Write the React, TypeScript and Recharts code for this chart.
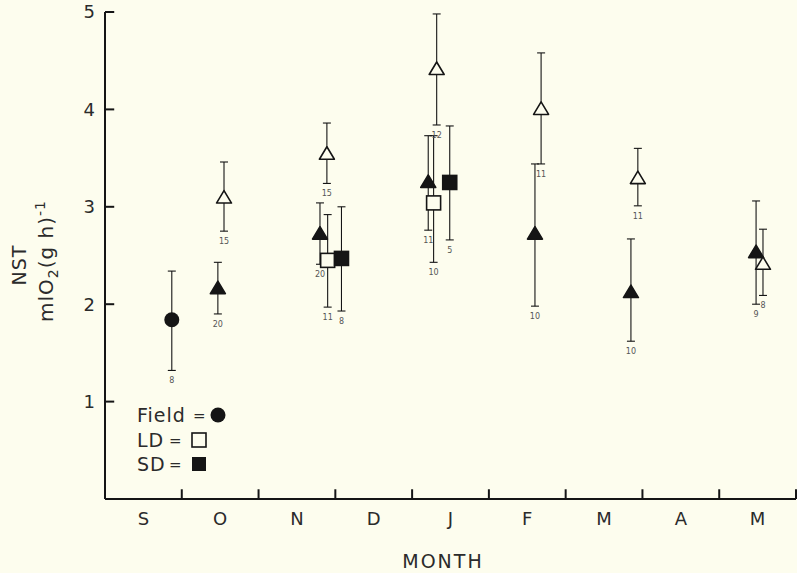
import {
  ScatterChart,
  Scatter,
  XAxis,
  YAxis,
  ErrorBar,
  ReferenceLine,
} from "recharts";

// Month bands: each month occupies one unit on the x axis, tick marks sit
// on the boundaries, labels in the middle of each band.
const months = ["S", "O", "N", "D", "J", "F", "M", "A", "M"];
const monthCentres = [0.5, 1.5, 2.5, 3.5, 4.5, 5.5, 6.5, 7.5, 8.5];
const monthBoundaries = [1, 2, 3, 4, 5, 6, 7, 8, 9];
const yTicks = [1, 2, 3, 4, 5];

// Field animals (filled circle)
const fieldX = [0.87];
const fieldMean = [1.84];
const fieldLow = [1.32];
const fieldHigh = [2.34];
const fieldN = ["8"];

// LD (open square)
const ldX = [2.9, 4.28];
const ldMean = [2.45, 3.04];
const ldLow = [1.97, 2.43];
const ldHigh = [2.92, 3.73];
const ldN = ["11", "10"];

// SD (filled square)
const sdX = [3.08, 4.49];
const sdMean = [2.47, 3.25];
const sdLow = [1.93, 2.66];
const sdHigh = [3.0, 3.83];
const sdN = ["8", "5"];

// filled triangles
const fTriX = [1.47, 2.8, 4.21, 5.6, 6.85, 8.48];
const fTriMean = [2.17, 2.73, 3.26, 2.73, 2.13, 2.54];
const fTriLow = [1.9, 2.41, 2.76, 1.98, 1.62, 2.0];
const fTriHigh = [2.43, 3.04, 3.73, 3.44, 2.67, 3.06];
const fTriN = ["20", "20", "11", "10", "10", "9"];

// open triangles
const oTriX = [1.55, 2.89, 4.32, 5.68, 6.94, 8.57];
const oTriMean = [3.1, 3.55, 4.42, 4.01, 3.3, 2.42];
const oTriLow = [2.75, 3.24, 3.84, 3.44, 3.01, 2.09];
const oTriHigh = [3.46, 3.86, 4.98, 4.58, 3.6, 2.77];
const oTriN = ["15", "15", "12", "11", "11", "8"];

const BG = "#fdfdee";
const INK = "#151515";
const TEXT = "#2b2b2b";
const FONT = "'DejaVu Sans', sans-serif";

type Row = { x: number; y: number; err: [number, number]; n: string };

const rows = (
  xs: number[],
  mean: number[],
  low: number[],
  high: number[],
  n: string[]
): Row[] =>
  xs.map((x, i) => ({
    x,
    y: mean[i],
    err: [mean[i] - low[i], high[i] - mean[i]],
    n: n[i],
  }));

const fieldRows = rows(fieldX, fieldMean, fieldLow, fieldHigh, fieldN);
const ldRows = rows(ldX, ldMean, ldLow, ldHigh, ldN);
const sdRows = rows(sdX, sdMean, sdLow, sdHigh, sdN);
const fTriRows = rows(fTriX, fTriMean, fTriLow, fTriHigh, fTriN);
const oTriRows = rows(oTriX, oTriMean, oTriLow, oTriHigh, oTriN);

// sample sizes hang under the lower whisker
const nRows = [
  ...fieldX.map((x, i) => ({ x, y: fieldLow[i], n: fieldN[i] })),
  ...ldX.map((x, i) => ({ x, y: ldLow[i], n: ldN[i] })),
  ...sdX.map((x, i) => ({ x, y: sdLow[i], n: sdN[i] })),
  ...fTriX.map((x, i) => ({ x, y: fTriLow[i], n: fTriN[i] })),
  ...oTriX.map((x, i) => ({ x, y: oTriLow[i], n: oTriN[i] })),
];

const triangle = (filled: boolean) => (p: any) => (
  <polygon
    points={`${p.cx},${p.cy - 6.5} ${p.cx + 7.5},${p.cy + 6} ${p.cx - 7.5},${p.cy + 6}`}
    fill={filled ? INK : BG}
    stroke={INK}
    strokeWidth={1.6}
    strokeLinejoin="round"
  />
);

const square = (filled: boolean) => (p: any) => (
  <rect
    x={p.cx - 7}
    y={p.cy - 7}
    width={14}
    height={14}
    fill={filled ? INK : BG}
    stroke={INK}
    strokeWidth={1.6}
  />
);

const dot = (p: any) => <circle cx={p.cx} cy={p.cy} r={7.5} fill={INK} />;

const nLabel = (p: any) => (
  <text
    x={p.cx}
    y={p.cy + 13}
    textAnchor="middle"
    fontSize={8}
    fontFamily={FONT}
    fill="#555"
  >
    {p.payload.n}
  </text>
);

const bar = (
  <ErrorBar dataKey="err" direction="y" width={4} stroke={INK} strokeWidth={1.1} />
);

export default function App() {
  return (
    <div
      style={{
        position: "absolute",
        left: 0,
        top: 0,
        width: 797,
        height: 573,
        background: BG,
      }}
    >
      <ScatterChart
        width={797}
        height={573}
        margin={{ top: 12, right: 1, left: 0, bottom: 0 }}
      >
        <XAxis
          type="number"
          dataKey="x"
          domain={[0, 9]}
          ticks={monthCentres}
          interval={0}
          tickFormatter={(v: number) => months[Math.floor(v)]}
          tickLine={false}
          tickSize={0}
          tickMargin={13}
          axisLine={{ stroke: INK, strokeWidth: 2 }}
          tick={{ fill: TEXT, fontSize: 18, fontFamily: FONT }}
          height={74}
        />
        <YAxis
          type="number"
          dataKey="y"
          domain={[0, 5]}
          ticks={yTicks}
          interval={0}
          allowDataOverflow
          tickLine={false}
          tickSize={0}
          tickMargin={10}
          axisLine={{ stroke: INK, strokeWidth: 2 }}
          tick={{ fill: TEXT, fontSize: 18, fontFamily: FONT }}
          width={105}
        />

        {monthBoundaries.map((t) => (
          <ReferenceLine
            key={`xt${t}`}
            segment={[
              { x: t, y: 0 },
              { x: t, y: 0.1 },
            ]}
            stroke={INK}
            strokeWidth={2}
            ifOverflow="visible"
          />
        ))}
        {yTicks.map((t) => (
          <ReferenceLine
            key={`yt${t}`}
            segment={[
              { x: 0, y: t },
              { x: 0.12, y: t },
            ]}
            stroke={INK}
            strokeWidth={2}
            ifOverflow="visible"
          />
        ))}

        <Scatter data={fieldRows} shape={dot} isAnimationActive={false}>
          {bar}
        </Scatter>
        <Scatter data={fTriRows} shape={triangle(true)} isAnimationActive={false}>
          {bar}
        </Scatter>
        <Scatter data={oTriRows} shape={triangle(false)} isAnimationActive={false}>
          {bar}
        </Scatter>
        <Scatter data={ldRows} shape={square(false)} isAnimationActive={false}>
          {bar}
        </Scatter>
        <Scatter data={sdRows} shape={square(true)} isAnimationActive={false}>
          {bar}
        </Scatter>
        <Scatter data={nRows} shape={nLabel} isAnimationActive={false} />

        {/* axis titles */}
        <text
          x={443}
          y={568}
          textAnchor="middle"
          fontSize={19}
          letterSpacing={2}
          fontFamily={FONT}
          fill={TEXT}
        >
          MONTH
        </text>
        <text
          x={26}
          y={265}
          transform="rotate(-90, 26, 265)"
          textAnchor="middle"
          fontSize={19}
          letterSpacing={1}
          fontFamily={FONT}
          fill={TEXT}
        >
          NST
        </text>
        <text
          x={53}
          y={322}
          transform="rotate(-90, 53, 322)"
          textAnchor="start"
          fontSize={20}
          letterSpacing={1}
          fontFamily={FONT}
          fill={TEXT}
        >
          mlO
          <tspan fontSize={14} dy={5}>
            2
          </tspan>
          <tspan dy={-5}>(g h)</tspan>
          <tspan fontSize={14} dy={-8}>
            -1
          </tspan>
        </text>

        {/* key */}
        <g fontFamily={FONT} fontSize={19} fill={TEXT}>
          <text x={137} y={422} letterSpacing={1}>
            Field
          </text>
          <text x={193} y={421} fontSize={15}>=</text>
          <text x={137} y={447} letterSpacing={1}>
            LD
          </text>
          <text x={169} y={446} fontSize={15}>=</text>
          <text x={137} y={471} letterSpacing={1}>
            SD
          </text>
          <text x={169} y={470} fontSize={15}>=</text>
        </g>
        <circle cx={218} cy={415} r={7.5} fill={INK} />
        <rect x={192} y={433} width={14} height={14} fill={BG} stroke={INK} strokeWidth={1.6} />
        <rect x={192} y={457} width={14} height={14} fill={INK} />
      </ScatterChart>
    </div>
  );
}
